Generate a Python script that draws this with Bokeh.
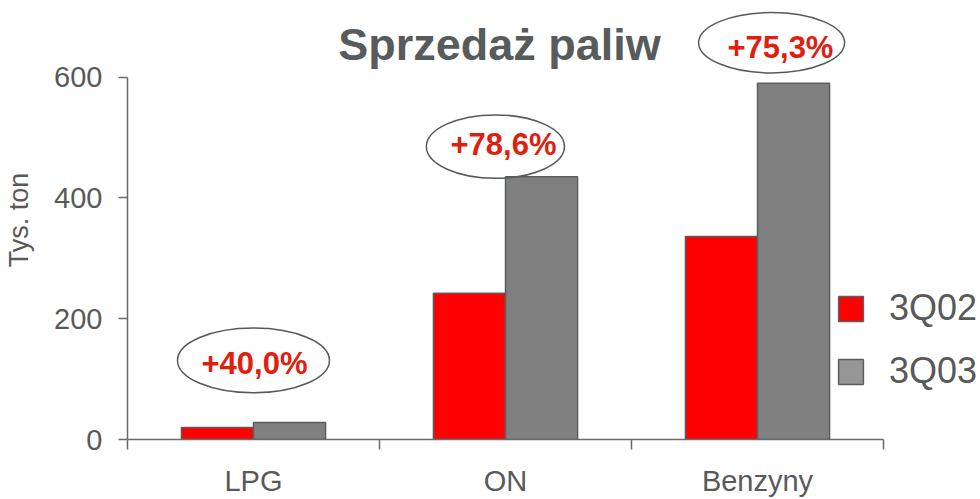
from bokeh.plotting import figure
from bokeh.models import Range1d, FixedTicker, Legend, LegendItem, ColumnDataSource
from bokeh.core.properties import value
from bokeh.embed import file_html
from bokeh.resources import INLINE
import numpy as np

categories = ["LPG", "ON", "Benzyny"]
q02 = [20, 242, 336]
q03 = [28, 435, 590]
series_names = ["3Q02", "3Q03"]
y_ticks = [0, 200, 400, 600]
changes = ["+40,0%", "+78,6%", "+75,3%"]
title_text = "Sprzedaż paliw"

# annotation placement (ellipse centres and text centres, data units)
ell_x = [0.50, 1.46, 2.556]
ell_y = [131, 485, 657]
ell_w = [0.603, 0.548, 0.579]
ell_h = [107, 105, 100]
txt_x = [0.504, 1.492, 2.591]
txt_y = [126, 488, 649]

FONT = "Liberation Sans"
GREY_TXT = "#595959"
AXIS_C = "#6a6a6a"
OUT_C = "#5a5e60"

W, H = 980, 499
left, bottom = 127, 58
frame_h = H - bottom
frame_w = W - left
px_per_unit = 364.0 / 600
y_end = frame_h / px_per_unit
x_end = frame_w / 252.0

p = figure(width=W, height=H, output_backend="svg", toolbar_location=None,
           x_range=Range1d(0, x_end), y_range=Range1d(0, y_end),
           min_border_left=left, min_border_bottom=bottom,
           min_border_top=0, min_border_right=0)
p.outline_line_color = None
p.xgrid.visible = False
p.ygrid.visible = False
p.background_fill_color = "white"

centers = np.arange(len(categories)) + 0.5
bw = 0.286
r1 = p.vbar(x=centers - bw / 2, top=q02, width=bw, fill_color="#ff0000",
            line_color=OUT_C, line_width=1.5)
r2 = p.vbar(x=centers + bw / 2, top=q03, width=bw, fill_color="#808080",
            line_color=OUT_C, line_width=1.5)

# legend-only renderers (not visible in the plot area)
dummy = ColumnDataSource(dict(x=[np.nan], top=[np.nan]))
l1 = p.vbar(x="x", top="top", width=0.1, source=dummy, fill_color="#ff0000", line_color=OUT_C, line_width=1.5)
l2 = p.vbar(x="x", top="top", width=0.1, source=dummy, fill_color="#969696", line_color=OUT_C, line_width=1.5)

p.ellipse(x=ell_x, y=ell_y, width=ell_w, height=ell_h, fill_color=None,
          line_color="#555a5c", line_width=1.5)
p.text(x=txt_x, y=txt_y, text=changes, text_font=value(FONT), text_font_style="bold",
       text_font_size="31px", text_color="#e0200f", text_align="center",
       text_baseline="middle")

# chart title (drawn inside the frame, top centre)
p.text(x=[1.476], y=[654], text=[title_text], text_font=value(FONT),
       text_font_style="bold", text_font_size="45px", text_color="#575b5c",
       text_align="center", text_baseline="middle")

# axes
xa = p.xaxis[0]
xa.ticker = FixedTicker(ticks=list(centers), minor_ticks=list(range(len(categories) + 1)))
xa.major_label_overrides = {float(c): n for c, n in zip(centers, categories)}
xa.bounds = (0, len(categories))
xa.major_tick_out = 0
xa.major_tick_in = 0
xa.minor_tick_out = 10
xa.minor_tick_in = 0
xa.minor_tick_line_color = AXIS_C
xa.minor_tick_line_width = 1.5
xa.axis_line_color = AXIS_C
xa.axis_line_width = 1.5
xa.major_label_text_font = FONT
xa.major_label_text_font_size = "29px"
xa.major_label_text_color = GREY_TXT
xa.major_label_standoff = 15

ya = p.yaxis[0]
ya.ticker = FixedTicker(ticks=y_ticks)
ya.bounds = (0, 600)
ya.major_tick_out = 9
ya.major_tick_in = 0
ya.minor_tick_out = 0
ya.minor_tick_in = 0
ya.major_tick_line_color = AXIS_C
ya.major_tick_line_width = 1.5
ya.axis_line_color = AXIS_C
ya.axis_line_width = 1.5
ya.major_label_text_font = FONT
ya.major_label_text_font_size = "29px"
ya.major_label_text_color = GREY_TXT
ya.major_label_standoff = 16
ya.axis_label = "Tys. ton"
ya.axis_label_text_font = FONT
ya.axis_label_text_font_size = "27px"
ya.axis_label_text_font_style = "normal"
ya.axis_label_text_color = GREY_TXT
ya.axis_label_standoff = 17

legend = Legend(items=[LegendItem(label=series_names[0], renderers=[l1]),
                       LegendItem(label=series_names[1], renderers=[l2])],
                location=(708, 47), orientation="vertical")
legend.glyph_width = 31
legend.glyph_height = 31
legend.label_height = 31
legend.spacing = 21
legend.padding = 0
legend.margin = 0
legend.label_standoff = 23
legend.label_text_font = FONT
legend.label_text_font_size = "36px"
legend.label_text_color = GREY_TXT
legend.label_text_baseline = "middle"
legend.border_line_color = None
legend.background_fill_alpha = 0
p.add_layout(legend)

open("out.html", "w").write(file_html(p, INLINE))
